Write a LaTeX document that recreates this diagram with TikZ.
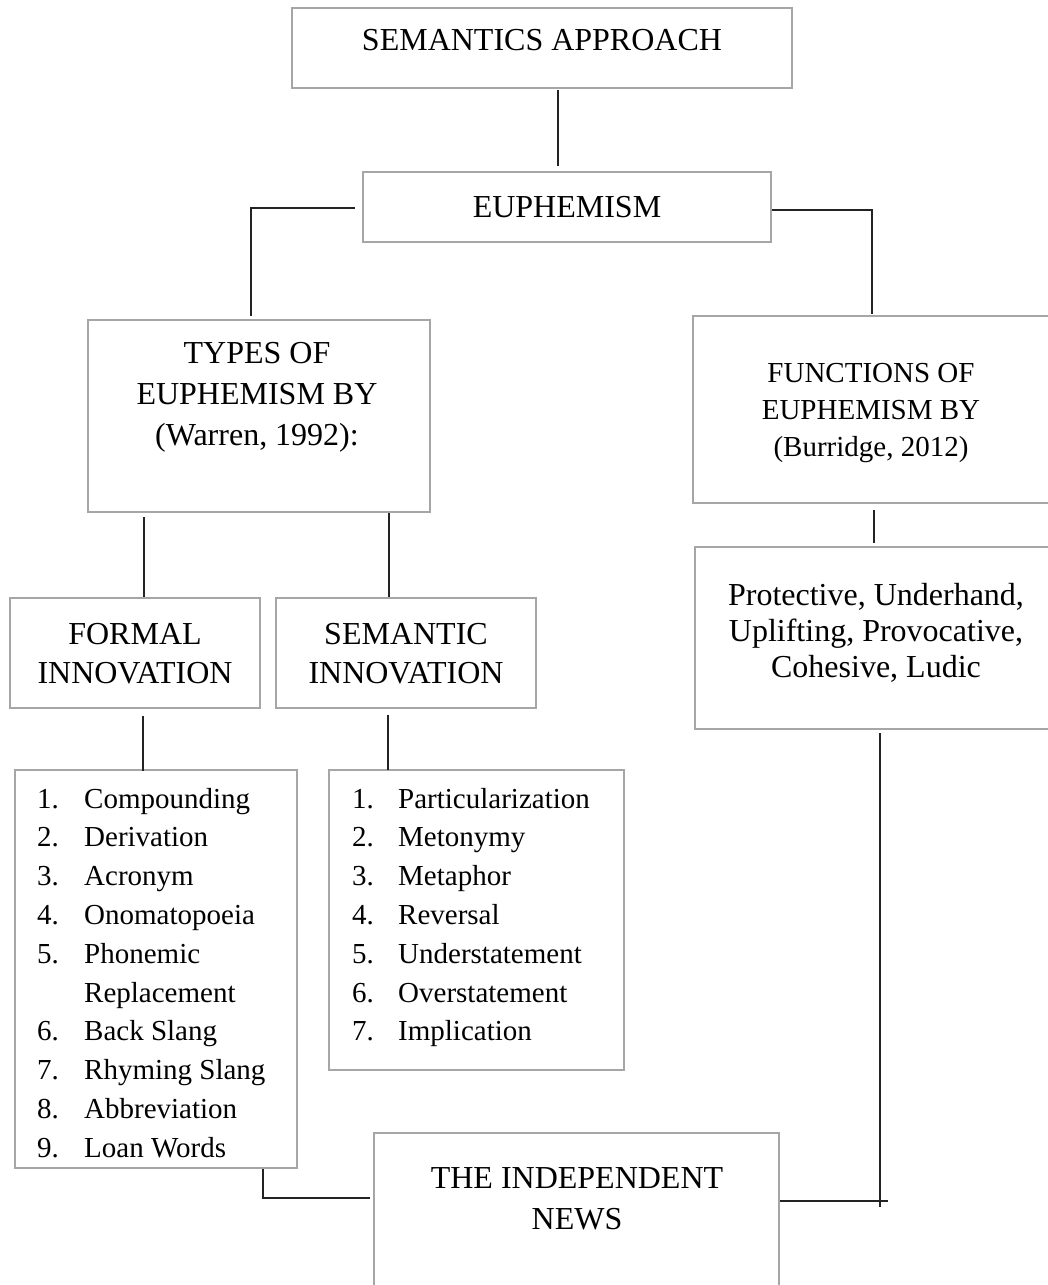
\documentclass[tikz,border=0pt]{standalone}
\usepackage{fontspec}
\setmainfont{Liberation Serif}
\definecolor{boxgray}{RGB}{166,166,166}
\definecolor{linegray}{RGB}{35,35,35}
\newcommand\mybox[5]{\node[box,minimum width={(#4-#2)*1pt},minimum height={(#5-#3)*1pt}] (#1) at ({(#2+#4)/2},{(#3+#5)/2}) {};}
\begin{document}
\begin{tikzpicture}[x=1pt,y=-1pt,
  box/.style={draw=boxgray,line width=2.2pt,rectangle,inner sep=0pt,outer sep=0pt},
  conn/.style={draw=linegray,line width=1.2pt},
  big/.style={font=\fontsize{32}{40}\selectfont,inner sep=0pt,anchor=base},
  small/.style={font=\fontsize{29}{36}\selectfont,inner sep=0pt,anchor=base},
  num/.style={small,anchor=base west},
  item/.style={small,anchor=base west}]
\useasboundingbox (0,0) rectangle (1048,1285);

% boxes
\mybox{sa}{292}{8}{792}{88}
\mybox{eu}{363}{172}{771}{242}
\mybox{ty}{88}{320}{430}{512}
\mybox{fn}{693}{316}{1053}{503}
\mybox{pr}{695}{547}{1053}{729}
\mybox{fo}{10}{598}{260}{708}
\mybox{se}{276}{598}{536}{708}
\mybox{fl}{15}{770}{297}{1168}
\mybox{sl}{329}{770}{624}{1070}
\mybox{nw}{374}{1133}{779}{1300}

% texts
\node[big] (saT) at (542,50) {SEMANTICS APPROACH};
\node[big] (euT) at (567,217) {EUPHEMISM};
\node[big] (tyA) at (257,363) {TYPES OF};
\node[big] (tyB) at (257,404) {EUPHEMISM BY};
\node[big] (tyC) at (257,445) {(Warren, 1992):};
\node[small] (fnA) at (871,382) {FUNCTIONS OF};
\node[small] (fnB) at (871,419) {EUPHEMISM BY};
\node[small] (fnC) at (871,456) {(Burridge, 2012)};
\node[big] (prA) at (876,605) {Protective, Underhand,};
\node[big] (prB) at (876,641) {Uplifting, Provocative,};
\node[big] (prC) at (876,677) {Cohesive, Ludic};
\node[big] (foA) at (135,644) {FORMAL};
\node[big] (foB) at (135,683) {INNOVATION};
\node[big] (seA) at (406,644) {SEMANTIC};
\node[big] (seB) at (406,683) {INNOVATION};
\node[big] (nwA) at (577,1188) {THE INDEPENDENT};
\node[big] (nwB) at (577,1229) {NEWS};

% formal list
\foreach \n/\t/\k in {1/Compounding/0,2/Derivation/1,3/Acronym/2,4/Onomatopoeia/3,5/Phonemic/4,6/Back Slang/6,7/Rhyming Slang/7,8/Abbreviation/8,9/Loan Words/9}{
  \node[num] (flN\n) at (37,{808+\k*38.8}) {\n.};
  \node[item] (flI\n) at (84,{808+\k*38.8}) {\t};
}
\node[item] (flI5b) at (84,{808+5*38.8}) {Replacement};

% semantic list
\foreach \n/\t/\k in {1/Particularization/0,2/Metonymy/1,3/Metaphor/2,4/Reversal/3,5/Understatement/4,6/Overstatement/5,7/Implication/6}{
  \node[num] (slN\n) at (352,{808+\k*38.8}) {\n.};
  \node[item] (slI\n) at (398,{808+\k*38.8}) {\t};
}

% connector points
\coordinate (a1) at (558,90);   \coordinate (a2) at (558,166);
\coordinate (b1) at (355,208);  \coordinate (b2) at (251,208); \coordinate (b3) at (251,316);
\coordinate (c1) at (772,210);  \coordinate (c2) at (872,210); \coordinate (c3) at (872,314);
\coordinate (d1) at (144,517);  \coordinate (d2) at (144,597);
\coordinate (e1) at (389,513);  \coordinate (e2) at (389,597);
\coordinate (f1) at (874,510);  \coordinate (f2) at (874,543);
\coordinate (g1) at (143,716);  \coordinate (g2) at (143,771);
\coordinate (h1) at (388,715);  \coordinate (h2) at (388,770);
\coordinate (i1) at (263,1169); \coordinate (i2) at (263,1198); \coordinate (i3) at (370,1198);
\coordinate (j1) at (880,733);  \coordinate (j2) at (880,1207);
\coordinate (k1) at (780,1201); \coordinate (k2) at (888,1201);

\draw[conn] (a1) -- (a2);
\draw[conn] (b1) -- (b2) -- (b3);
\draw[conn] (c1) -- (c2) -- (c3);
\draw[conn] (d1) -- (d2);
\draw[conn] (e1) -- (e2);
\draw[conn] (f1) -- (f2);
\draw[conn] (g1) -- (g2);
\draw[conn] (h1) -- (h2);
\draw[conn] (i1) -- (i2) -- (i3);
\draw[conn] (j1) -- (j2);
\draw[conn] (k1) -- (k2);
\end{tikzpicture}
\end{document}
